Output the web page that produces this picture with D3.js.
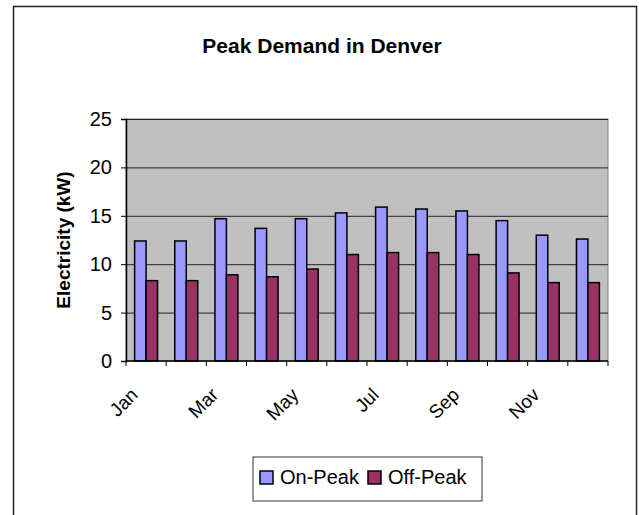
<!DOCTYPE html>
<html>
<head>
<meta charset="utf-8">
<script src="https://cdn.jsdelivr.net/npm/d3@7"></script>
<style>
  body { margin: 0; background: #fff; }
  svg { display: block; font-family: Arial, "Liberation Sans", sans-serif; }
</style>
</head>
<body>
<svg id="chart" width="639" height="515"></svg>
<script>
// data
const months = ["Jan", "Feb", "Mar", "Apr", "May", "Jun", "Jul", "Aug", "Sep", "Oct", "Nov", "Dec"];
const onPeak = [12.4, 12.4, 14.7, 13.7, 14.7, 15.3, 15.9, 15.7, 15.5, 14.5, 13.0, 12.6];
const offPeak = [8.3, 8.3, 8.9, 8.7, 9.5, 11.0, 11.2, 11.2, 11.0, 9.1, 8.1, 8.1];
const seriesNames = ["On-Peak", "Off-Peak"];
const yTicks = [0, 5, 10, 15, 20, 25];
const shownMonths = ["Jan", "Mar", "May", "Jul", "Sep", "Nov"];

const colours = {"On-Peak": "#9999ff", "Off-Peak": "#993366"};

const svg = d3.select("#chart");
const plot = {left: 126, right: 608, top: 119, bottom: 361};

// outer chart frame (runs off the bottom of the picture)
svg.append("rect")
    .attr("x", 13.5).attr("y", 6.5)
    .attr("width", 623).attr("height", 600)
    .attr("fill", "#fff")
    .attr("stroke", "#222")
    .attr("stroke-width", 1.5);

svg.append("text")
    .attr("x", 322).attr("y", 53)
    .attr("text-anchor", "middle")
    .attr("font-size", "21px")
    .attr("font-weight", "bold")
    .text("Peak Demand in Denver");

const x = d3.scaleBand(months, [plot.left, plot.right]);
const gap = x.bandwidth() * 0.75 / 3.5;
const xs = d3.scaleBand(seriesNames, [gap, x.bandwidth() - gap]);
const y = d3.scaleLinear([0, 25], [plot.bottom, plot.top]);

// plot background
svg.append("rect")
    .attr("x", plot.left).attr("y", plot.top)
    .attr("width", plot.right - plot.left)
    .attr("height", plot.bottom - plot.top)
    .attr("fill", "#c0c0c0")
    .attr("stroke", "#808080");

// gridlines
svg.append("g")
    .attr("transform", `translate(${plot.left},0)`)
    .call(d3.axisLeft(y).tickValues(yTicks.slice(1)).tickSize(-(plot.right - plot.left)).tickFormat(""))
    .call(g => g.select(".domain").remove())
    .call(g => g.selectAll("line").attr("stroke", "#222").attr("stroke-width", 1));

// bars
const rows = months.map((m, i) => ({month: m, values: [
    {name: "On-Peak", value: onPeak[i]},
    {name: "Off-Peak", value: offPeak[i]}]}));

svg.append("g").selectAll("g")
    .data(rows)
    .join("g")
    .attr("transform", d => `translate(${x(d.month)},0)`)
    .selectAll("rect")
    .data(d => d.values)
    .join("rect")
    .attr("x", d => xs(d.name))
    .attr("y", d => y(d.value))
    .attr("width", xs.bandwidth())
    .attr("height", d => y(0) - y(d.value))
    .attr("fill", d => colours[d.name])
    .attr("stroke", "#000")
    .attr("stroke-width", 1.5);

// y axis
svg.append("g")
    .attr("transform", `translate(${plot.left},0)`)
    .call(d3.axisLeft(y).tickValues(yTicks).tickSize(5).tickPadding(9))
    .call(g => g.select(".domain").attr("stroke", "#000").attr("stroke-width", 1.5))
    .call(g => g.selectAll("line").attr("stroke", "#000"))
    .call(g => g.selectAll("text").attr("font-size", "20px").attr("font-family", "Arial, 'Liberation Sans', sans-serif").attr("fill", "#000"));

// x axis: ticks on the category boundaries
const bounds = months.map(m => x(m)).concat([plot.right]);
const xAxis = svg.append("g");
xAxis.append("line")
    .attr("x1", plot.left).attr("x2", plot.right)
    .attr("y1", plot.bottom).attr("y2", plot.bottom)
    .attr("stroke", "#000").attr("stroke-width", 1.5);
xAxis.selectAll("line.tick")
    .data(bounds)
    .join("line")
    .attr("class", "tick")
    .attr("x1", d => d).attr("x2", d => d)
    .attr("y1", plot.bottom).attr("y2", plot.bottom + 5)
    .attr("stroke", "#000");
xAxis.selectAll("text")
    .data(shownMonths)
    .join("text")
    .attr("transform", d => `translate(${x(d) + x.bandwidth() / 2 - 7},${plot.bottom + 35}) rotate(-45)`)
    .attr("text-anchor", "end")
    .attr("font-size", "19px")
    .text(d => d);

// y axis title
svg.append("text")
    .attr("transform", `translate(70,${(plot.top + plot.bottom) / 2}) rotate(-90)`)
    .attr("text-anchor", "middle")
    .attr("font-size", "19px")
    .attr("font-weight", "bold")
    .text("Electricity (kW)");

// legend
const legend = svg.append("g");
legend.append("rect")
    .attr("x", 253).attr("y", 457)
    .attr("width", 229).attr("height", 44)
    .attr("fill", "#fff")
    .attr("stroke", "#333");
const legendX = [260, 368];
const items = legend.selectAll("g.item")
    .data(seriesNames)
    .join("g")
    .attr("class", "item")
    .attr("transform", (d, i) => `translate(${legendX[i]},0)`);
items.append("rect")
    .attr("x", 0).attr("y", 471)
    .attr("width", 13).attr("height", 13)
    .attr("fill", d => colours[d])
    .attr("stroke", "#000")
    .attr("stroke-width", 1.5);
items.append("text")
    .attr("x", 20).attr("y", 484)
    .attr("font-size", "20px")
    .text(d => d);
</script>
</body>
</html>
